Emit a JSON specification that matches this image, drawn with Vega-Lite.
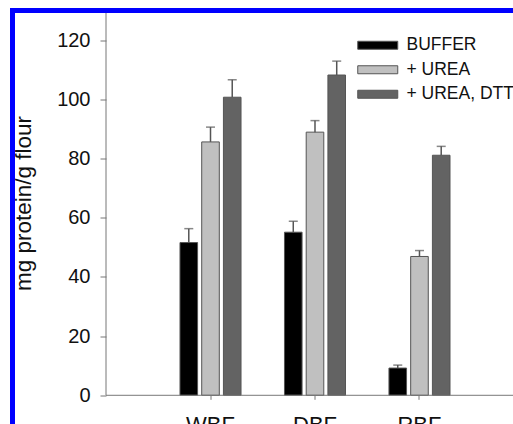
{
  "$schema": "https://vega.github.io/schema/vega-lite/v6.json",
  "width": 500.5,
  "height": 413.5,
  "autosize": {"type": "none"},
  "padding": {"left": 12.5, "top": 10.5, "right": 0, "bottom": 0},
  "background": "white",
  "config": {
    "view": {"stroke": null},
    "font": "Liberation Sans"
  },
  "data": {
    "values": [
      {"flour": "WBF", "treatment": "BUFFER", "value": 51.6, "upper": 56.3},
      {"flour": "WBF", "treatment": "+ UREA", "value": 85.6, "upper": 90.6},
      {"flour": "WBF", "treatment": "+ UREA, DTT", "value": 100.7, "upper": 106.6},
      {"flour": "DBF", "treatment": "BUFFER", "value": 55.1, "upper": 58.8},
      {"flour": "DBF", "treatment": "+ UREA", "value": 88.9, "upper": 92.8},
      {"flour": "DBF", "treatment": "+ UREA, DTT", "value": 108.2, "upper": 112.9},
      {"flour": "RBF", "treatment": "BUFFER", "value": 9.2, "upper": 10.2},
      {"flour": "RBF", "treatment": "+ UREA", "value": 46.9, "upper": 48.9},
      {"flour": "RBF", "treatment": "+ UREA, DTT", "value": 81.1, "upper": 84.1}
    ]
  },
  "layer": [
    {
      "layer": [
        {
          "mark": {"type": "bar", "stroke": "#555555", "strokeWidth": 1},
          "encoding": {
            "x": {
              "field": "flour",
              "type": "nominal",
              "scale": {"domain": ["_0", "WBF", "DBF", "RBF"], "paddingInner": 0, "paddingOuter": 0.395},
              "axis": {
                "values": ["WBF", "DBF", "RBF"],
                "offset": -28.7,
                "domain": false,
                "tickSize": 4,
                "tickColor": "#777777",
                "labelFontSize": 22,
                "labelPadding": 15,
                "labelColor": "#111111",
                "labelAngle": 0,
                "title": null
              }
            },
            "xOffset": {
              "field": "treatment",
              "type": "nominal",
              "scale": {"domain": ["BUFFER", "+ UREA", "+ UREA, DTT"], "paddingInner": 0.19, "paddingOuter": 1.083}
            },
            "y": {
              "field": "value",
              "type": "quantitative",
              "scale": {"domain": [-9.7, 130], "nice": false},
              "axis": {
                "values": [0, 20, 40, 60, 80, 100, 120],
                "offset": -93.5,
                "domain": false,
                "grid": false,
                "tickSize": 6,
                "tickColor": "#777777",
                "labelFontSize": 20,
                "labelPadding": 10,
                "labelColor": "#111111",
                "title": "mg protein/g flour",
                "titleFontSize": 22.5,
                "titleFontWeight": "normal",
                "titleColor": "#111111",
                "titlePadding": 21,
                "titleY": 192.5
              }
            },
            "color": {
              "field": "treatment",
              "type": "nominal",
              "scale": {"domain": ["BUFFER", "+ UREA", "+ UREA, DTT"], "range": ["#000000", "#c0c0c0", "#636363"]},
              "legend": {
                "title": null,
                "orient": "none",
                "legendX": 356.5,
                "legendY": 26,
                "padding": 0,
                "symbolType": "M-5,-1H5V1H-5Z",
                "symbolSize": 64,
                "symbolStrokeColor": "#555555",
                "symbolStrokeWidth": 1,
                "labelFontSize": 17.5,
                "labelColor": "#111111",
                "labelOffset": 20,
                "rowPadding": 5.5
              }
            }
          }
        },
        {
          "mark": {"type": "rule", "color": "#555555", "strokeWidth": 1.5},
          "encoding": {
            "x": {"field": "flour", "type": "nominal"},
            "xOffset": {"field": "treatment", "type": "nominal"},
            "y": {"field": "value", "type": "quantitative"},
            "y2": {"field": "upper"}
          }
        },
        {
          "mark": {"type": "tick", "orient": "horizontal", "size": 9, "thickness": 1.5, "color": "#555555"},
          "encoding": {
            "x": {"field": "flour", "type": "nominal"},
            "xOffset": {"field": "treatment", "type": "nominal"},
            "y": {"field": "upper", "type": "quantitative"}
          }
        }
      ]
    },
    {
      "data": {"values": [{}]},
      "layer": [
        {
          "mark": {"type": "rule", "color": "#777777", "strokeWidth": 1},
          "encoding": {
            "x": {"datum": 0, "type": "quantitative", "scale": {"domain": [-0.8948, 3.895], "nice": false, "zero": false}, "axis": null},
            "y": {"datum": 0, "type": "quantitative"},
            "y2": {"datum": 130}
          }
        },
        {
          "mark": {"type": "rule", "color": "#777777", "strokeWidth": 1},
          "encoding": {
            "x": {"datum": 0, "type": "quantitative", "axis": null},
            "x2": {"datum": 3.895},
            "y": {"datum": 0, "type": "quantitative"}
          }
        },
        {
          "mark": {"type": "rule", "color": "#0000ff", "strokeWidth": 5, "strokeCap": "square"},
          "encoding": {
            "x": {"datum": -0.8948, "type": "quantitative", "axis": null},
            "y": {"datum": -9.7, "type": "quantitative"},
            "y2": {"datum": 130}
          }
        },
        {
          "mark": {"type": "rule", "color": "#0000ff", "strokeWidth": 5, "strokeCap": "square"},
          "encoding": {
            "x": {"datum": -0.8948, "type": "quantitative", "axis": null},
            "x2": {"datum": 3.895},
            "y": {"datum": 130, "type": "quantitative"}
          }
        }
      ]
    }
  ],
  "resolve": {"scale": {"x": "independent"}}
}
